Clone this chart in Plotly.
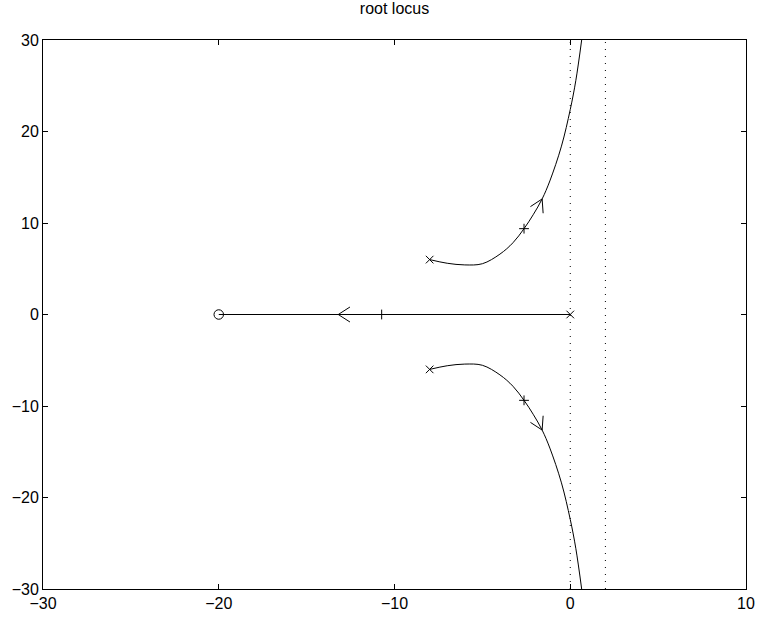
import plotly.graph_objects as go

# ---- data ----
upper_x = [-8.0, -7.0, -6.0, -5.0, -4.0, -3.26, -2.63, -2.11, -1.60, -1.16, -0.50, 0.0, 0.32, 0.65]
upper_y = [6.0, 5.6, 5.42, 5.55, 6.6, 7.84, 9.38, 10.90, 12.63, 14.6, 18.4, 22.4, 25.6, 30.0]
lower_x = list(upper_x)
lower_y = [-v for v in upper_y]
real_x = [0.0, -13.2, -20.0]
real_y = [0.0, 0.0, 0.0]

poles_x = [-8.0, -8.0, 0.0]
poles_y = [6.0, -6.0, 0.0]
zeros_x = [-20.0]
zeros_y = [0.0]
gain_x = [-2.63, -2.63, -10.73]
gain_y = [9.38, -9.38, 0.0]

guide_x = [0.0, 2.0]
guide_y = [-30.0, 30.0]

arrow_tips = [(-13.2, 0.0), (-1.60, 12.63), (-1.60, -12.63)]
x_ticks = [-30, -20, -10, 0, 10]
y_ticks = [-30, -20, -10, 0, 10, 20, 30]

# ---- styles ----
arm_offsets = [
    [(11.7, 7.5), (11.7, -7.5)],
    [(-11.7, -7.7), (1.0, -14.3)],
    [(-11.7, 7.7), (1.0, 14.3)],
]
FONT = "Liberation Sans"

fig = go.Figure()

for gx in guide_x:
    fig.add_trace(go.Scatter(x=[gx, gx], y=guide_y, mode="lines",
                             line=dict(color="black", width=1, dash="1px,6px"),
                             hoverinfo="skip"))

for bx, by, shape in [(upper_x, upper_y, "spline"), (lower_x, lower_y, "spline"),
                      (real_x, real_y, "linear")]:
    fig.add_trace(go.Scatter(x=bx, y=by, mode="lines",
                             line=dict(color="black", width=1, shape=shape, smoothing=1.0)))

fig.add_trace(go.Scatter(x=poles_x, y=poles_y, mode="markers",
                         marker=dict(symbol="x-thin-open", size=7.6,
                                     line=dict(color="black", width=1), color="black")))
fig.add_trace(go.Scatter(x=gain_x, y=gain_y, mode="markers",
                         marker=dict(symbol="cross-thin-open", size=7,
                                     line=dict(color="black", width=1), color="black")))
fig.add_trace(go.Scatter(x=zeros_x, y=zeros_y, mode="markers",
                         marker=dict(symbol="circle-open", size=9.5,
                                     line=dict(color="black", width=1), color="black")))

shapes = []
for (tx, ty), arms in zip(arrow_tips, arm_offsets):
    for dx, dy in arms:
        shapes.append(dict(type="line", xref="x", yref="y",
                           xsizemode="pixel", ysizemode="pixel",
                           xanchor=tx, yanchor=ty, x0=0, y0=0, x1=dx, y1=dy,
                           line=dict(color="black", width=1)))

axis_common = dict(showgrid=False, zeroline=False, showline=True, linecolor="black",
                   linewidth=1, mirror="ticks", ticks="inside", ticklen=5,
                   tickcolor="black", tickwidth=1,
                   tickfont=dict(family=FONT, size=16, color="black"))

fig.update_layout(
    width=767, height=624,
    margin=dict(l=41, r=12, t=40, b=25),
    paper_bgcolor="white", plot_bgcolor="white",
    showlegend=False,
    title=dict(text="root locus", x=0.5, xref="paper", y=1, yref="container",
               yanchor="top", pad=dict(t=3),
               font=dict(family=FONT, size=16, color="black")),
    xaxis=dict(range=[-30, 10], tickvals=x_ticks, **axis_common),
    yaxis=dict(range=[-30, 30], tickvals=y_ticks, **axis_common),
    shapes=shapes,
)

fig.write_html("out.html")
